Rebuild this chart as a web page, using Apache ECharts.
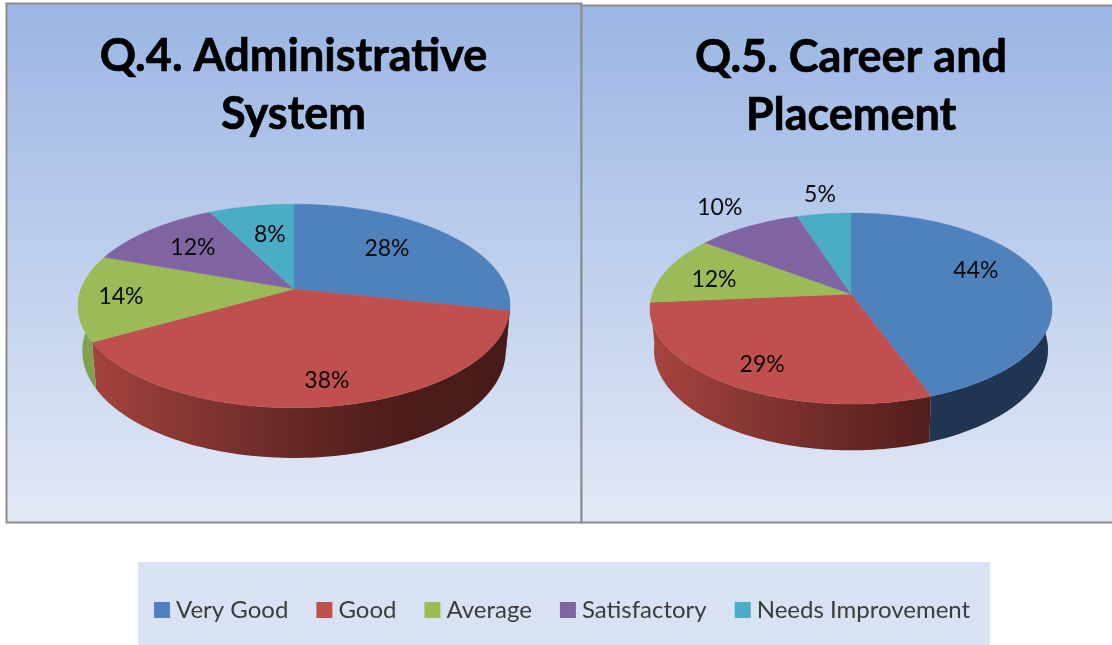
<!DOCTYPE html>
<html><head><meta charset="utf-8">
<style>html,body{margin:0;padding:0;background:#fff}#c{width:1112px;height:645px}</style>
<script src="https://cdn.jsdelivr.net/npm/echarts@6/dist/echarts.min.js"></script>
</head><body><div id="c"></div>
<script>
// ---- data ----
const categories = ['Very Good', 'Good', 'Average', 'Satisfactory', 'Needs Improvement'];
const q4Values = [28.4, 38.4, 13.7, 12, 7.5];
const q5Values = [44.4, 29.2, 11.6, 9.8, 5];
const chartTitles = ['Q.4. Administrative\nSystem', 'Q.5. Career and\nPlacement'];
// ---- styles / layout (not data) ----
const topColors = ['#4f81bd', '#c0504d', '#9bbb59', '#8064a2', '#4bacc6'];
const wallColors = ['#1f3552', null, '#83a04f', '#5d4876', '#357d90'];
const pies = [
  {values: q4Values, cx: 294, cy: 289, R: 213, S: 99, k: 0.1667, drop: 44.2, wallTo: 270,
   labelR: [0.646, 0.808, 0.806, 0.685, 0.625], labelShift: [-4.6, -0.9, 0, 0.4, 2]},
  {values: q5Values, cx: 851, cy: 294, R: 198.7, S: 93.3, k: 0.152, drop: 40.8, wallTo: 264.9,
   labelR: [0.707, 0.784, 0.726, 1.33, 1.294], labelShift: [-12.2, -1.6, -2.7, 0.3, 0.7]}
];
const FONT = 'Lato';
const SX = 0.98, SY = 1.05, WALL_FROM = 90, LABEL_NUDGE = 0.7;

function project(p, theta, r) {
  const a = theta * Math.PI / 180;
  const u = r * Math.sin(a), v = -r * Math.cos(a), d = 1 - p.k * v;
  return [p.cx + p.R * u / d, p.cy + p.S * v / d];
}
function lower(p, pt) {
  return [p.cx + SX * (pt[0] - p.cx), p.cy + SY * (pt[1] - p.cy) + p.drop];
}
function arc(from, to) {
  const out = [], n = Math.max(2, Math.ceil((to - from) / 1.5));
  for (let i = 0; i <= n; i++) out.push(from + (to - from) * i / n);
  return out;
}
function redWall(p) {
  return {type: 'linear', x: p.cx - 1.01 * p.R, y: 0, x2: p.cx + 1.01 * p.R, y2: 0, global: true,
    colorStops: [{offset: 0, color: '#a8443f'}, {offset: 0.5, color: '#662826'},
                 {offset: 0.72, color: '#4f1d1b'}, {offset: 1, color: '#471b19'}]};
}
function renderSlice(catIndex) {
  return function (params, api) {
    const p = pies[api.value(0)];
    const before = p.values.slice(0, catIndex).reduce((a, b) => a + b, 0);
    const start = before * 3.6, end = (before + api.value(1)) * 3.6, mid = (start + end) / 2;
    const children = [];
    const wa = Math.max(start, WALL_FROM), wb = Math.min(end, p.wallTo);
    if (wb > wa) {
      const topPts = arc(wa, wb).map(t => project(p, t, 1));
      const lowPts = topPts.map(q => lower(p, q)).reverse();
      const fill = wallColors[catIndex] || redWall(p);
      children.push({type: 'polygon', z2: 1, shape: {points: topPts.concat(lowPts)},
        style: {fill: fill}});
    }
    const face = [[p.cx, p.cy]].concat(arc(start, end).map(t => project(p, t, 1)));
    children.push({type: 'polygon', z2: 2, shape: {points: face},
      style: {fill: topColors[catIndex], stroke: topColors[catIndex], lineWidth: 0.4}});
    const lp = project(p, mid + p.labelShift[catIndex], p.labelR[catIndex]);
    children.push({type: 'text', z2: 3, style: {
      text: Math.round(api.value(1)) + '%', x: lp[0], y: lp[1] + LABEL_NUDGE, align: 'center', verticalAlign: 'middle',
      font: '23px ' + FONT, fill: '#0a0a0a'}});
    return {type: 'group', children: children};
  };
}
const panelFill = {type: 'linear', x: 0, y: 0, x2: 0, y2: 1,
  colorStops: [{offset: 0, color: '#9ab5e4'}, {offset: 1, color: '#e3e9f6'}]};
const titleStyle = {fontFamily: FONT, fontWeight: 'bold', fontSize: 45, lineHeight: 58, color: '#000',
  textBorderColor: '#000', textBorderWidth: 0.7};

const option = {
  backgroundColor: '#ffffff',
  animation: false,
  title: [
    {text: chartTitles[0], left: 288.5, top: 22, textAlign: 'center', textStyle: titleStyle},
    {text: chartTitles[1], left: 846, top: 23, textAlign: 'center', textStyle: titleStyle}
  ],
  legend: {
    left: 154, top: 598, icon: 'rect', itemWidth: 16, itemHeight: 16, itemGap: 28, padding: 0,
    data: categories, selectedMode: false,
    textStyle: {fontFamily: FONT, fontSize: 24, color: '#3c3c3c', padding: [0, 0, 0, 1]}
  },
  graphic: [
    {type: 'rect', z: -5, shape: {x: 6.5, y: 3.5, width: 575, height: 519},
     style: {fill: panelFill, stroke: '#8c8c8c', lineWidth: 2}},
    {type: 'rect', z: -5, shape: {x: 581.5, y: 5.5, width: 540, height: 517},
     style: {fill: panelFill, stroke: '#8c8c8c', lineWidth: 2}},
    {type: 'rect', z: -5, shape: {x: 138, y: 562, width: 852, height: 83},
     style: {fill: '#d9e2f3'}}
  ],
  series: categories.map((name, i) => ({
    type: 'custom', name: name, coordinateSystem: 'none', silent: true,
    itemStyle: {color: topColors[i]},
    encode: {value: [1]},
    data: [[0, q4Values[i]], [1, q5Values[i]]],
    renderItem: renderSlice(i)
  }))
};
echarts.init(document.getElementById('c'), null, {renderer: 'canvas'}).setOption(option);
</script></body></html>
